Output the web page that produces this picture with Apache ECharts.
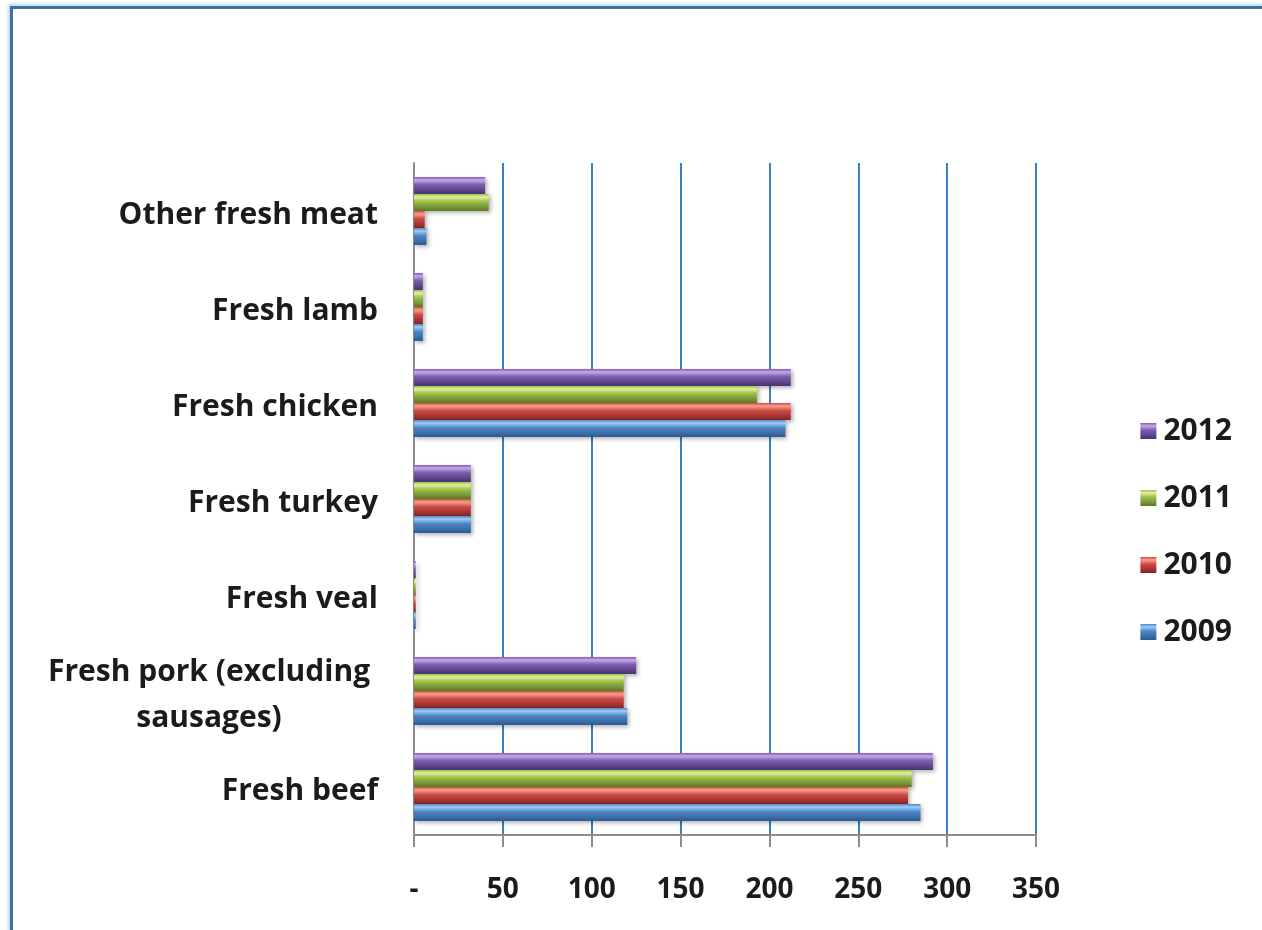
<!DOCTYPE html>
<html>
<head>
<meta charset="utf-8">
<script src="https://cdn.jsdelivr.net/npm/echarts@6/dist/echarts.min.js"></script>
<style>
  html, body { margin: 0; padding: 0; background: #ffffff; }
  #frame {
    position: absolute; left: 10px; top: 6px; width: 1252px; height: 924px;
    border-left: 3px solid #3f6f9c; border-top: 3px solid #3f6f9c;
    box-shadow: -2px -2px 3px rgba(140, 190, 235, 0.6);
  }
  #chart { position: absolute; left: 0; top: 0; width: 1262px; height: 930px; }
</style>
</head>
<body>
<div id="frame"></div>
<div id="chart"></div>
<script>
// Meat categories, listed from the bottom of the chart to the top
const categories = [
  'Fresh beef',
  'Fresh pork (excluding sausages)',
  'Fresh veal',
  'Fresh turkey',
  'Fresh chicken',
  'Fresh lamb',
  'Other fresh meat'
];

// Series listed top bar first within each category group
const years = ['2012', '2011', '2010', '2009'];

const values2009 = [285, 120, 1, 32, 209, 5, 7];
const values2010 = [278, 118, 1, 32, 212, 5, 6];
const values2011 = [280, 118, 1, 32, 193, 5, 42];
const values2012 = [292, 125, 1, 32, 212, 5, 40];

const xTicks = [0, 50, 100, 150, 200, 250, 300, 350];

// light top edge, mid tone, dark lower edge for a rounded bar look
const shades = {
  '2009': ['#9ccdf7', '#4f86c6', '#2b5a92'],
  '2010': ['#f7a08f', '#cc4a44', '#8a2323'],
  '2011': ['#e2f29a', '#9cbd4e', '#5b7a25'],
  '2012': ['#c7a9ee', '#7d5cb0', '#4a346f']
};

function barFill(year) {
  const s = shades[year];
  return new echarts.graphic.LinearGradient(0, 0, 0, 1, [
    { offset: 0, color: s[1] },
    { offset: 0.18, color: s[0] },
    { offset: 0.45, color: s[1] },
    { offset: 1, color: s[2] }
  ]);
}

const seriesValues = {
  '2009': values2009,
  '2010': values2010,
  '2011': values2011,
  '2012': values2012
};

const fontFamily = '"Open Sans", Lato, sans-serif';
const textColor = '#1b1b1b';

const chart = echarts.init(document.getElementById('chart'), null, { renderer: 'canvas' });

chart.setOption({
  backgroundColor: 'transparent',
  animation: false,
  grid: { left: 414, right: 226, top: 163, bottom: 95, containLabel: false },
  legend: {
    orient: 'vertical',
    right: 25,
    top: 411,
    data: ['2012', '2011', '2010', '2009'],
    icon: 'rect',
    itemWidth: 16,
    itemHeight: 16,
    itemGap: 37,
    textStyle: { fontFamily, fontWeight: 'bold', fontSize: 30, color: textColor, padding: [0, 0, 0, 2] }
  },
  xAxis: {
    type: 'value',
    min: xTicks[0],
    max: xTicks[xTicks.length - 1],
    interval: 50,
    axisLine: { show: true, lineStyle: { color: '#8c8c8c', width: 2 } },
    axisTick: { show: true, length: 12, lineStyle: { color: '#8c8c8c', width: 2 } },
    axisLabel: {
      margin: 41,
      fontFamily, fontWeight: 'bold', fontSize: 28, color: textColor,
      formatter: v => (v === 0 ? '-' : String(v))
    },
    splitLine: { show: true, lineStyle: { color: '#3a80c4', width: 2 } }
  },
  yAxis: {
    type: 'category',
    data: categories,
    axisLine: { show: true, lineStyle: { color: '#8c8c8c', width: 2 } },
    axisTick: { show: false },
    axisLabel: {
      margin: 36,
      fontFamily, fontWeight: 'bold', fontSize: 30, color: textColor,
      lineHeight: 46,
      padding: [9, 0, 0, 0],
      formatter: v => v === 'Fresh pork (excluding sausages)'
        ? '{c|Fresh pork (excluding}\n{c|sausages)}'
        : v,
      rich: {
        c: { fontFamily, fontWeight: 'bold', fontSize: 30, color: textColor, lineHeight: 46, width: 338, align: 'center' }
      }
    }
  },
  series: years.map(y => ({
    name: y,
    type: 'bar',
    data: seriesValues[y],
    barWidth: 17,
    barGap: '0%',
    itemStyle: {
      color: barFill(y),
      shadowColor: 'rgba(0,0,0,0.3)',
      shadowBlur: 4,
      shadowOffsetX: 2,
      shadowOffsetY: 2
    }
  }))
});
</script>
</body>
</html>
